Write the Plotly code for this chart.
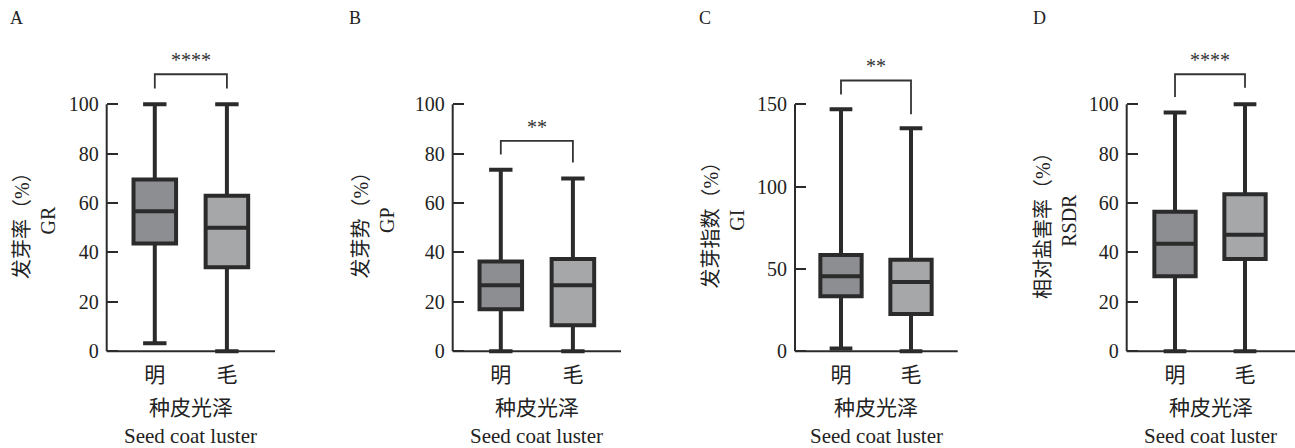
import plotly.graph_objects as go

# ---------------- data ----------------
categories = ['明', '毛']
panel_labels = ['A', 'B', 'C', 'D']
y_title_cn = ['发芽率（%）', '发芽势（%）', '发芽指数（%）', '相对盐害率（%）']
y_title_en = ['GR', 'GP', 'GI', 'RSDR']
x_title_cn = '种皮光泽'
x_title_en = 'Seed coat luster'

# box statistics per panel: [明, 毛]
lower_A = [3.2, 0];   q1_A = [43.6, 34.0]; med_A = [56.7, 50.0]; q3_A = [69.5, 63.0]; upper_A = [100, 100]
lower_B = [0, 0];     q1_B = [17.0, 10.5]; med_B = [26.7, 26.7]; q3_B = [36.3, 37.3]; upper_B = [73.5, 70.0]
lower_C = [1.6, 0];   q1_C = [33.3, 22.5]; med_C = [45.5, 42.0]; q3_C = [58.5, 55.5]; upper_C = [147, 135.5]
lower_D = [0, 0];     q1_D = [30.3, 37.3]; med_D = [43.5, 47.2]; q3_D = [56.5, 63.6]; upper_D = [96.7, 100]

y_tickvals = [[0, 20, 40, 60, 80, 100], [0, 20, 40, 60, 80, 100],
              [0, 50, 100, 150], [0, 20, 40, 60, 80, 100]]
y_axis_max = [100, 100, 150, 100]

# significance brackets
sig_text = ['****', '**', '**', '****']
sig_top = [112.2, 85.2, 164.5, 112.2]
sig_left = [106.4, 79.7, 156.0, 103.0]
sig_right = [106.4, 76.4, 144.0, 106.7]

stats = [
    (lower_A, q1_A, med_A, q3_A, upper_A),
    (lower_B, q1_B, med_B, q3_B, upper_B),
    (lower_C, q1_C, med_C, q3_C, upper_C),
    (lower_D, q1_D, med_D, q3_D, upper_D),
]

# ---------------- style / layout ----------------
W, H = 1295, 448
LINE = '#2b2b2b'
FILLS = ['#8d8e92', '#a6a7a9']
SERIF = 'Liberation Serif, Noto Sans CJK SC'
CJK = 'Noto Sans CJK SC'

x_dom_px = [(106.7, 275.0), (452.7, 621.0), (795.0, 957.7), (1126.7, 1295.0)]
x_ranges = [[-0.667, 1.667], [-0.667, 1.667], [-0.657, 1.667], [-0.69, 1.714]]
zero_px, top_val_px, dom_bot_px, dom_top_px = 356.7, 106.0, 361.0, 50.0
label_x_px = [16, 355, 705, 1039]
ytitle_x_px = [34.5, 373, 723, 1055.5]

fig = go.Figure()
layout = dict(width=W, height=H, margin=dict(l=0, r=0, t=0, b=0),
              paper_bgcolor='white', plot_bgcolor='rgba(0,0,0,0)', showlegend=False,
              boxmode='overlay')
shapes, annotations = [], []

for i in range(4):
    xa = 'x' if i == 0 else f'x{i+1}'
    ya = 'y' if i == 0 else f'y{i+1}'
    lo, q1, md, q3, up = stats[i]
    for j, cat in enumerate(categories):
        fig.add_trace(go.Box(
            x=[cat], q1=[q1[j]], median=[md[j]], q3=[q3[j]],
            lowerfence=[lo[j]], upperfence=[up[j]],
            fillcolor=FILLS[j], line=dict(color=LINE, width=4),
            width=0.59, whiskerwidth=0.55, boxpoints=False,
            hoverinfo='skip', xaxis=xa, yaxis=ya))
    # significance bracket
    fig.add_trace(go.Scatter(
        x=[categories[0], categories[0], categories[1], categories[1]],
        y=[sig_left[i], sig_top[i], sig_top[i], sig_right[i]],
        mode='lines', line=dict(color='#333333', width=1.8),
        hoverinfo='skip', xaxis=xa, yaxis=ya))

    k = (zero_px - top_val_px) / y_axis_max[i]
    ymin = -(dom_bot_px - zero_px) / k
    ymax = (zero_px - dom_top_px) / k
    d0, d1 = x_dom_px[i]
    xkey = 'xaxis' if i == 0 else f'xaxis{i+1}'
    ykey = 'yaxis' if i == 0 else f'yaxis{i+1}'
    layout[xkey] = dict(domain=[d0 / W, d1 / W], range=x_ranges[i], type='category',
                        categoryorder='array', categoryarray=categories,
                        showline=False, showgrid=False, zeroline=False, ticks='',
                        tickfont=dict(family=CJK, size=21, color='#222'),
                        anchor=ya, fixedrange=True, ticklabelstandoff=5)
    layout[ykey] = dict(domain=[1 - dom_bot_px / H, 1 - dom_top_px / H],
                        range=[ymin, ymax], anchor=xa,
                        tickvals=y_tickvals[i], ticks='inside', ticklen=11,
                        tickwidth=2, tickcolor=LINE, showline=False,
                        showgrid=False, zeroline=False,
                        tickfont=dict(family=SERIF, size=20, color='#222'),
                        ticklabelstandoff=7, fixedrange=True)
    # axis lines
    shapes.append(dict(type='line', xref=f'{xa} domain', yref=ya, x0=0, x1=0,
                       y0=0, y1=y_axis_max[i], line=dict(color=LINE, width=2), layer='below'))
    shapes.append(dict(type='line', xref=f'{xa} domain', yref=ya, x0=0, x1=1,
                       y0=0, y1=0, line=dict(color=LINE, width=2), layer='below'))
    # stars
    annotations.append(dict(text=sig_text[i], xref=xa, yref=ya, x=0.5, y=sig_top[i],
                            yanchor='bottom', showarrow=False, yshift=1,
                            font=dict(family=SERIF, size=20, color='#333')))
    # panel letter
    annotations.append(dict(text=panel_labels[i], xref='paper', yref='paper',
                            x=label_x_px[i] / W, y=1 - 18 / H, xanchor='center', yanchor='middle',
                            showarrow=False, font=dict(family=SERIF, size=18, color='#222')))
    # y title
    annotations.append(dict(text=f'{y_title_cn[i]}<br>{y_title_en[i]}', xref='paper', yref='paper',
                            x=ytitle_x_px[i] / W, y=1 - 224 / H, xanchor='center', yanchor='middle',
                            textangle=-90, showarrow=False,
                            font=dict(family=SERIF, size=20, color='#222')))
    # x title
    xc = (d0 + d1) / 2 / W
    annotations.append(dict(text=x_title_cn, xref='paper', yref='paper', x=xc, y=1 - 412 / H,
                            xanchor='center', yanchor='middle', showarrow=False,
                            font=dict(family=CJK, size=21, color='#222')))
    annotations.append(dict(text=x_title_en, xref='paper', yref='paper', x=xc, y=1 - 443 / H,
                            xanchor='center', yanchor='middle', showarrow=False,
                            font=dict(family=SERIF, size=21, color='#222')))

layout['shapes'] = shapes
layout['annotations'] = annotations
fig.update_layout(**layout)
fig.write_html('out.html')
